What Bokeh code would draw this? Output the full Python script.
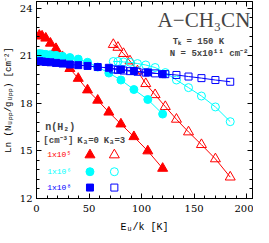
from bokeh.plotting import figure
from bokeh.models import Range1d, LinearAxis, SingleIntervalTicker, Label
from bokeh.embed import file_html
from bokeh.resources import INLINE

# Upper-level energies E_u/k [K]
eu_k0 = [2.65, 5.30, 8.83, 13.24, 18.54, 24.72, 31.79, 39.73, 48.56, 58.27,
         68.87, 80.35, 92.71, 105.95, 120.08]
eu_k3 = [73.1, 77.5, 82.8, 89.0, 96.1, 104.0, 112.9, 122.6, 133.2, 144.7,
         157.0, 170.3, 184.4]

# Ln(N_upp/g_upp) for n(H2) = 1e5, 1e6, 1e8 cm^-3
ln_n5_k0 = [22.30, 22.25, 22.12, 21.80, 21.46, 20.95, 20.20, 19.58, 18.85, 18.20,
            17.45, 16.70, 15.90, 15.00, 13.90]
ln_n5_k3 = [21.72, 21.54, 21.15, 20.68, 20.05, 19.25, 18.55, 17.80, 17.00, 16.20,
            15.40, 14.50, 13.35]
ln_n6_k0 = [21.15, 21.13, 21.10, 21.08, 21.04, 20.98, 20.90, 20.80, 20.60, 20.30,
            19.92, 19.48, 18.88, 18.25, 17.33]
ln_n6_k3 = [20.65, 20.65, 20.62, 20.60, 20.52, 20.43, 20.27, 19.95, 19.48, 19.00,
            18.47, 17.78, 16.85]
ln_n8_k0 = [20.67, 20.65, 20.62, 20.60, 20.56, 20.52, 20.46, 20.42, 20.37, 20.30,
            20.25, 20.15, 20.05, 19.96, 19.85]
ln_n8_k3 = [20.15, 20.12, 20.08, 20.04, 20.00, 19.95, 19.90, 19.85, 19.80, 19.70,
            19.60, 19.48, 19.37]

density_labels = ["1x10⁵", "1x10⁶", "1x10⁸"]
colors = ["#ff0000", "#00ffff", "#0000ff"]
markers = ["triangle", "circle", "square"]
marker_sizes = [10, 8, 7]
series_k0 = [ln_n5_k0, ln_n6_k0, ln_n8_k0]
series_k3 = [ln_n5_k3, ln_n6_k3, ln_n8_k3]

MONO = "Liberation Mono"

p = figure(width=253, height=235, output_backend="svg", toolbar_location=None,
           x_range=Range1d(0, 205.6), y_range=Range1d(12, 24.4375),
           min_border_left=30, min_border_right=1, min_border_top=1,
           min_border_bottom=35,
           x_axis_label="Eᵤ/k [K]", y_axis_label="Ln (Nᵤₚₚ/gᵤₚₚ) [cm⁻²]")
p.xgrid.visible = False
p.ygrid.visible = False
p.outline_line_color = "black"
p.background_fill_color = "white"
p.border_fill_color = "white"

xt = SingleIntervalTicker(interval=50, num_minor_ticks=5)
yt = SingleIntervalTicker(interval=3, num_minor_ticks=5)
bottom = p.below[0]
left = p.left[0]
bottom.ticker = xt
left.ticker = yt
top = LinearAxis(ticker=xt, major_label_text_font_size="0px",
                 major_label_text_color=None, major_label_standoff=0)
right = LinearAxis(ticker=yt, major_label_text_font_size="0px",
                   major_label_text_color=None, major_label_standoff=0)
p.add_layout(top, "above")
p.add_layout(right, "right")

for ax in (bottom, left, top, right):
    ax.major_tick_in = 5
    ax.major_tick_out = 0
    ax.minor_tick_in = 3
    ax.minor_tick_out = 0
    ax.axis_line_color = "black"
    ax.major_tick_line_color = "black"
    ax.minor_tick_line_color = "black"

bottom.major_label_text_font = "DejaVu Serif"
bottom.major_label_text_font_size = "10px"
bottom.major_label_text_color = "black"
bottom.major_label_standoff = 6
bottom.axis_label_text_font = MONO
bottom.axis_label_text_font_size = "10px"
bottom.axis_label_text_font_style = "normal"
bottom.axis_label_standoff = 7
bottom.axis_label_text_color = "black"

left.major_label_text_font = "DejaVu Serif"
left.major_label_text_font_size = "10px"
left.major_label_text_color = "black"
left.major_label_standoff = 4
left.axis_label_text_font = MONO
left.axis_label_text_font_size = "9px"
left.axis_label_text_font_style = "normal"
left.axis_label_standoff = 3
left.axis_label_text_color = "black"

# data series
for ys0, ys3, c, m, s in zip(series_k0, series_k3, colors, markers, marker_sizes):
    p.line(eu_k0, ys0, line_color=c, line_width=1)
    p.scatter(eu_k0, ys0, marker=m, size=s, fill_color=c, line_color=c)
    p.line(eu_k3, ys3, line_color=c, line_width=1)
    p.scatter(eu_k3, ys3, marker=m, size=s, fill_color=None, line_color=c,
              line_width=1)

# legend block (positions in data units)
leg_x_k0 = 50.9
leg_x_k3 = 74.1
leg_rows_y = [14.75, 13.69, 12.69]
leg_text_x = 10.2
for ly, c, m, s, lab in zip(leg_rows_y, colors, markers, marker_sizes, density_labels):
    p.scatter([leg_x_k0], [ly], marker=m, size=s, fill_color=c, line_color=c)
    p.scatter([leg_x_k3], [ly], marker=m, size=s, fill_color=None, line_color=c)
    p.add_layout(Label(x=leg_text_x, y=ly, text=lab, text_font=MONO,
                       text_font_size="8px", text_color=c, text_baseline="middle"))

p.add_layout(Label(x=8.3, y=16.5, text="n(H₂)", text_font=MONO, text_font_size="10px",
                   text_baseline="middle", text_font_style="bold"))
p.add_layout(Label(x=6.5, y=15.6, text="[cm⁻³]", text_font=MONO, text_font_size="9px",
                   text_baseline="middle", text_font_style="bold"))
p.add_layout(Label(x=38.9, y=15.6, text="Kₐ=0", text_font=MONO, text_font_size="9px",
                   text_baseline="middle", text_font_style="bold"))
p.add_layout(Label(x=63.9, y=15.6, text="Kₐ=3", text_font=MONO, text_font_size="9px",
                   text_baseline="middle", text_font_style="bold"))

# title and parameters
p.add_layout(Label(x=203.5, y=23.25, text="A−CH₃CN", text_font="Liberation Serif",
                   text_font_size="21px", text_baseline="alphabetic", text_align="right"))
p.add_layout(Label(x=129.6, y=21.875, text="Tₖ = 150 K", text_font=MONO,
                   text_font_size="9px", text_baseline="middle", text_font_style="bold"))
p.add_layout(Label(x=126.9, y=21.125, text="N = 5x10¹¹ cm⁻²", text_font=MONO,
                   text_font_size="9px", text_baseline="middle", text_font_style="bold"))

open("out.html", "w").write(file_html(p, INLINE))
